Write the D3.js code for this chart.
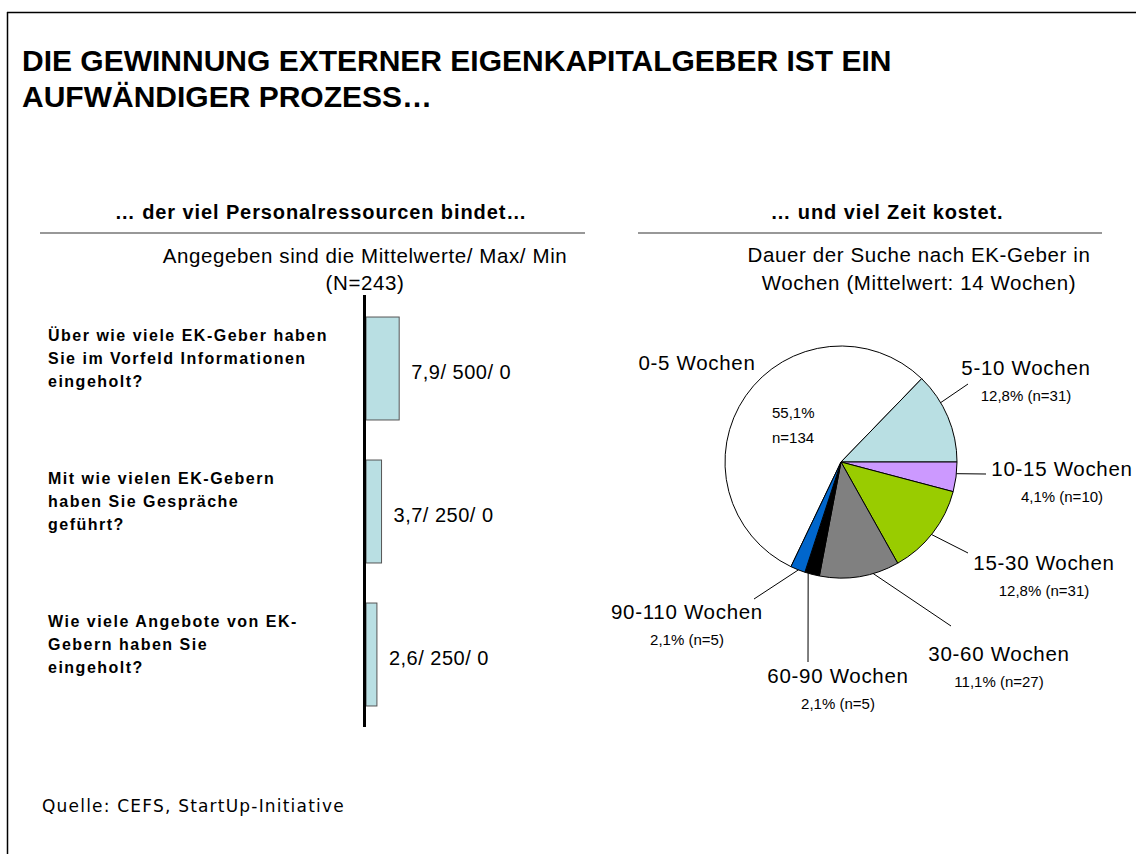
<!DOCTYPE html>
<html>
<head>
<meta charset="utf-8">
<script src="https://cdn.jsdelivr.net/npm/d3@7"></script>
<style>
  html, body { margin: 0; padding: 0; background: #fff; }
  svg { display: block; }
</style>
</head>
<body>
<svg id="chart" width="1136" height="854"></svg>
<script>
// ---- data ----
const titleLines = ["DIE GEWINNUNG EXTERNER EIGENKAPITALGEBER IST EIN", "AUFWÄNDIGER PROZESS…"];

const questions = [
  ["Über wie viele EK-Geber haben", "Sie im Vorfeld Informationen", "eingeholt?"],
  ["Mit wie vielen EK-Gebern", "haben Sie Gespräche", "geführt?"],
  ["Wie viele Angebote von EK-", "Gebern haben Sie", "eingeholt?"]
];
const meanValues = [7.9, 3.7, 2.6];
const maxValues = [500, 250, 250];
const minValues = [0, 0, 0];

const durationClasses = ["0-5 Wochen", "5-10 Wochen", "10-15 Wochen", "15-30 Wochen", "30-60 Wochen", "60-90 Wochen", "90-110 Wochen"];
const durationCounts = [134, 31, 10, 31, 27, 5, 5];
const durationShares = [55.1, 12.8, 4.1, 12.8, 11.1, 2.1, 2.1];
const sliceColors = ["#ffffff", "#b9dfe3", "#cc99ff", "#99cc00", "#808080", "#000000", "#0066cc"];

const fmt = v => String(v).replace(".", ",");

const svg = d3.select("#chart");
const SANS = "'Liberation Sans', Arial, sans-serif";

// ---- frame ----
svg.append("line").attr("x1", 7).attr("x2", 1136).attr("y1", 12.5).attr("y2", 12.5)
  .attr("stroke", "#000").attr("stroke-width", 1.5);
svg.append("line").attr("x1", 7.5).attr("x2", 7.5).attr("y1", 12).attr("y2", 854)
  .attr("stroke", "#000").attr("stroke-width", 1.5);

// ---- title ----
svg.append("g").selectAll("text").data(titleLines).join("text")
  .attr("x", 22).attr("y", (d, i) => 71 + i * 36)
  .attr("font-family", SANS).attr("font-weight", "bold").attr("font-size", 30)
  .attr("fill", "#000").text(d => d);

// ---- section headers ----
const headers = [
  { text: "… der viel Personalressourcen bindet…", cx: 321, x1: 40, x2: 585 },
  { text: "… und viel Zeit kostet.", cx: 887, x1: 638, x2: 1102 }
];
headers.forEach(h => {
  svg.append("text").attr("x", h.cx).attr("y", 219).attr("text-anchor", "middle")
    .attr("font-family", SANS).attr("font-weight", "bold").attr("font-size", 20)
    .attr("letter-spacing", 0.9)
    .text(h.text);
  svg.append("line").attr("x1", h.x1).attr("x2", h.x2).attr("y1", 233).attr("y2", 233)
    .attr("stroke", "#333").attr("stroke-width", 1.2);
});

// subtitles
const subLeft = ["Angegeben sind die Mittelwerte/ Max/ Min", "(N=243)"];
const subRight = ["Dauer der Suche nach EK-Geber in", "Wochen (Mittelwert: 14 Wochen)"];
svg.append("g").selectAll("text").data(subLeft).join("text")
  .attr("x", 365).attr("y", (d, i) => 263 + i * 27).attr("text-anchor", "middle")
  .attr("font-family", SANS).attr("font-size", 20.5).attr("letter-spacing", 0.6).text(d => d);
svg.append("g").selectAll("text").data(subRight).join("text")
  .attr("x", 919).attr("y", (d, i) => 262 + i * 28).attr("text-anchor", "middle")
  .attr("font-family", SANS).attr("font-size", 20.5).attr("letter-spacing", 0.6).text(d => d);

// ---- left: horizontal bars of mean values ----
const axisX = 366;
const x = d3.scaleLinear().domain([0, 10]).range([axisX, axisX + 42]);
const y = d3.scaleBand().domain(d3.range(questions.length)).range([297, 726]).paddingInner(0.28).paddingOuter(0.14);

const barG = svg.append("g");
barG.selectAll("rect").data(meanValues).join("rect")
  .attr("x", x(0))
  .attr("y", (d, i) => y(i))
  .attr("width", d => x(d) - x(0))
  .attr("height", y.bandwidth())
  .attr("fill", "#b9dfe3")
  .attr("stroke", "#555").attr("stroke-width", 1);

// vertical axis line
svg.append("line").attr("x1", axisX - 1.5).attr("x2", axisX - 1.5).attr("y1", 295).attr("y2", 727)
  .attr("stroke", "#000").attr("stroke-width", 3);

// value labels: mean / max / min
barG.selectAll("text.val").data(meanValues).join("text").attr("class", "val")
  .attr("x", d => Math.max(x(d), x(2.6)) + 12)
  .attr("y", (d, i) => y(i) + y.bandwidth() / 2 + 10)
  .attr("font-family", SANS).attr("font-size", 20).attr("letter-spacing", 0.5)
  .text((d, i) => `${fmt(d)}/ ${maxValues[i]}/ ${minValues[i]}`);

// question labels
questions.forEach((lines, i) => {
  const cy = y(i) + y.bandwidth() / 2;
  svg.append("g").selectAll("text").data(lines).join("text")
    .attr("x", 48).attr("y", (d, j) => cy - 5 + (j - 1) * 23)
    .attr("font-family", SANS).attr("font-weight", "bold").attr("font-size", 16)
    .attr("letter-spacing", 1.5)
    .text(d => d);
});

// ---- right: pie chart of search duration ----
const cx = 841, cy = 462, r = 116;
const total = d3.sum(durationCounts);
// 10-15 Wochen begins at 3 o'clock; categories run clockwise
const offset = Math.PI / 2 - 2 * Math.PI * (durationCounts[0] + durationCounts[1]) / total;
const pie = d3.pie().sort(null).value(d => d).startAngle(offset).endAngle(offset + 2 * Math.PI);
const arcs = pie(durationCounts);
const arc = d3.arc().innerRadius(0).outerRadius(r);

const pieG = svg.append("g").attr("transform", `translate(${cx},${cy})`);
pieG.selectAll("path").data(arcs).join("path")
  .attr("d", arc)
  .attr("fill", (d, i) => sliceColors[i])
  .attr("stroke", "#000").attr("stroke-width", 1);

// label placement for each class: name position and leader end
const labelPos = [
  { nx: 697, ny: 370, leader: null },
  { nx: 1026, ny: 375, leader: [968, 384] },
  { nx: 1062, ny: 476, leader: [986, 474] },
  { nx: 1044, ny: 570, leader: [968, 553] },
  { nx: 999, ny: 661, leader: [951, 626] },
  { nx: 838, ny: 683, leader: [808, 662] },
  { nx: 687, ny: 619, leader: [754, 599] }
];
// where along each slice's rim the leader starts (fraction of slice span from its middle)
const leaderAngleShift = [0, -0.17, -0.11, 0.02, -0.17, 0.27, -0.04];

arcs.forEach((a, i) => {
  const p = labelPos[i];
  svg.append("text").attr("x", p.nx).attr("y", p.ny).attr("text-anchor", "middle")
    .attr("font-family", SANS).attr("font-size", 20.5).attr("letter-spacing", 0.7)
    .text(durationClasses[i]);
  if (i === 0) {
    // share inside the large slice
    svg.append("text").attr("x", 772).attr("y", 418).attr("font-family", SANS).attr("font-size", 15)
      .text(`${fmt(durationShares[i])}%`);
    svg.append("text").attr("x", 772).attr("y", 443).attr("font-family", SANS).attr("font-size", 15)
      .text(`n=${durationCounts[i]}`);
  } else {
    svg.append("text").attr("x", p.nx).attr("y", p.ny + 26).attr("text-anchor", "middle")
      .attr("font-family", SANS).attr("font-size", 15)
      .text(`${fmt(durationShares[i])}% (n=${durationCounts[i]})`);
  }
  if (p.leader) {
    const mid = (a.startAngle + a.endAngle) / 2 + leaderAngleShift[i] * (a.endAngle - a.startAngle);
    const sx = cx + r * Math.sin(mid), sy = cy - r * Math.cos(mid);
    svg.append("line").attr("x1", sx).attr("y1", sy).attr("x2", p.leader[0]).attr("y2", p.leader[1])
      .attr("stroke", "#000").attr("stroke-width", 1);
  }
});

// ---- source ----
svg.append("text").attr("x", 42).attr("y", 812)
  .attr("font-family", "'DejaVu Sans', Verdana, sans-serif").attr("font-size", 17)
  .attr("letter-spacing", 1.2)
  .text("Quelle: CEFS, StartUp-Initiative");
</script>
</body>
</html>
